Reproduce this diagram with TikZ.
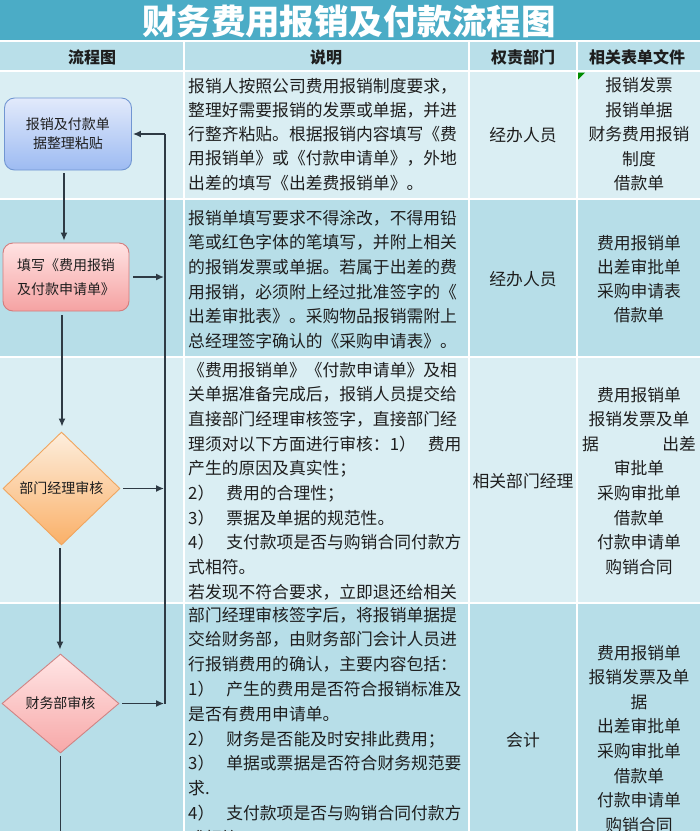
\documentclass[tikz,border=0pt]{standalone}
\usepackage{fontspec}
\setmainfont{Noto Sans CJK SC}
\usetikzlibrary{shapes.geometric,arrows.meta}
\newcommand\numgap{\hspace{12pt}}
\definecolor{titlebg}{HTML}{4BACC6}
\definecolor{hdrbg}{HTML}{B9DFE9}
\definecolor{rowa}{HTML}{DAEEF3}
\definecolor{rowb}{HTML}{B7DEE8}
\definecolor{ink}{HTML}{1E1E1E}
\definecolor{arr}{HTML}{2E3A44}
\definecolor{bluetop}{HTML}{E2EAFB}
\definecolor{bluebot}{HTML}{9DBBF2}
\definecolor{blueline}{HTML}{7196D2}
\definecolor{redtop}{HTML}{FFE3E3}
\definecolor{redbot}{HTML}{F5A2A2}
\definecolor{redline}{HTML}{D47C7C}
\definecolor{orgtop}{HTML}{FDEEDD}
\definecolor{orgbot}{HTML}{FAB068}
\definecolor{orgline}{HTML}{F0A55E}
\definecolor{pinktop}{HTML}{FFE6E6}
\definecolor{pinkbot}{HTML}{F7A8A8}
\definecolor{pinkline}{HTML}{CF8484}
\tikzset{
  desc/.style={font=\fontsize{16.8}{20}\selectfont, text=ink, inner sep=0pt},
  hdr/.style={font=\fontsize{16}{20}\selectfont\bfseries, text=ink, inner sep=0pt},
  flowtext/.style={font=\fontsize{14}{19}\selectfont, text=ink, align=center, inner sep=0pt},
  conn/.style={draw=arr, line width=1.4pt, -{Latex[length=8pt,width=7pt]}},
  plainline/.style={draw=arr, line width=1.4pt},
  gridline/.style={draw=white, line width=2.5pt},
}
\begin{document}
\begin{tikzpicture}[x=1pt,y=-1pt]
\useasboundingbox (0,0) rectangle (700,831);
\clip (0,0) rectangle (700,831);
% backgrounds
\fill[white] (0,0) rectangle (700,831);
\fill[titlebg] (0,0) rectangle (700,40);
\fill[hdrbg] (0,42) rectangle (700,71);
\fill[rowa] (0,71) rectangle (700,199);
\fill[rowb] (0,199) rectangle (700,357);
\fill[rowa] (0,357) rectangle (700,603);
\fill[rowb] (0,603) rectangle (700,831);
\draw[gridline] (0,71) -- (700,71);
\draw[gridline] (0,199) -- (700,199);
\draw[gridline] (0,357) -- (700,357);
\draw[gridline] (0,603) -- (700,603);
\draw[gridline] (184,42) -- (184,831);
\draw[gridline] (469,42) -- (469,831);
\draw[gridline] (577,42) -- (577,831);
\fill[green!55!black] (578,72.5) -- (585,72.5) -- (578,79.5) -- cycle;
% title and header
\node[font=\fontsize{34.5}{34}\selectfont\bfseries, text=white, inner sep=0pt] (title) at (349,21) {财务费用报销及付款流程图};
\node[hdr] (h1) at (92,57) {流程图};
\node[hdr] (h2) at (326,57) {说明};
\node[hdr] (h3) at (523,57) {权责部门};
\node[hdr] (h4) at (637,57) {相关表单文件};
% description column
\foreach \t [count=\i] in {报销人按照公司费用报销制度要求，,整理好需要报销的发票或单据，并进,行整齐粘贴。根据报销内容填写《费,用报销单》或《付款申请单》，外地,出差的填写《出差费报销单》。}
  \node[desc, anchor=base west] (da\i) at (188,{92+(\i-1)*24.3}) {\t};
\foreach \t [count=\i] in {报销单填写要求不得涂改，不得用铅,笔或红色字体的笔填写，并附上相关,的报销发票或单据。若属于出差的费,用报销，必须附上经过批准签字的《,出差审批表》。采购物品报销需附上,总经理签字确认的《采购申请表》。}
  \node[desc, anchor=base west] (db\i) at (188,{224+(\i-1)*24.7}) {\t};
\foreach \t [count=\i] in {《费用报销单》《付款申请单》及相,关单据准备完成后，报销人员提交给,直接部门经理审核签字，直接部门经,理须对以下方面进行审核：1）\numgap 费用,产生的原因及真实性；,2）\numgap 费用的合理性；,3）\numgap 票据及单据的规范性。,4）\numgap 支付款项是否与购销合同付款方,式相符。,若发现不符合要求，立即退还给相关}
  \node[desc, anchor=base west] (dc\i) at (188,{376+(\i-1)*24.7}) {\t};
\foreach \t [count=\i] in {部门经理审核签字后，将报销单据提,交给财务部，由财务部门会计人员进,行报销费用的确认，主要内容包括：,1）\numgap 产生的费用是否符合报销标准及,是否有费用申请单。,2）\numgap 财务是否能及时安排此费用；,3）\numgap 单据或票据是否符合财务规范要,求.,4）\numgap 支付款项是否与购销合同付款方,式相符。}
  \node[desc, anchor=base west] (dd\i) at (188,{621+(\i-1)*24.8}) {\t};
% responsible column
\node[desc] (ra) at (523,135) {经办人员};
\node[desc] (rb) at (523,279) {经办人员};
\node[desc] (rc) at (523,481) {相关部门经理};
\node[desc] (rd) at (523,740) {会计};
% documents column
\foreach \t [count=\i] in {报销发票,报销单据,财务费用报销,制度,借款单}
  \node[desc, anchor=base] (fa\i) at (639,{91.5+(\i-1)*24.6}) {\t};
\foreach \t [count=\i] in {费用报销单,出差审批单,采购申请表,借款单}
  \node[desc, anchor=base] (fb\i) at (639,{249+(\i-1)*24.1}) {\t};
\foreach \t [count=\i] in {费用报销单,报销发票及单,{\makebox[114pt]{据\hfill 出差}},审批单,采购审批单,借款单,付款申请单,购销合同}
  \node[desc, anchor=base] (fc\i) at (639,{401+(\i-1)*24.6}) {\t};
\foreach \t [count=\i] in {费用报销单,报销发票及单,据,出差审批单,采购审批单,借款单,付款申请单,购销合同}
  \node[desc, anchor=base] (fd\i) at (639,{659+(\i-1)*24.6}) {\t};
% flowchart shapes
\node[flowtext, draw=blueline, line width=0.9pt, rounded corners=10pt, top color=bluetop, bottom color=bluebot,
      minimum width=127pt, minimum height=72pt] (b1) at (68,134) {报销及付款单\\据整理粘贴};
\node[flowtext, font=\fontsize{14}{24}\selectfont, draw=redline, line width=0.9pt, rounded corners=10pt, top color=redtop, bottom color=redbot,
      minimum width=126pt, minimum height=68pt] (b2) at (66,277) {填写《费用报销\\及付款申请单》};
\node[flowtext, diamond, draw=orgline, line width=0.9pt, top color=orgtop, bottom color=orgbot,
      minimum width=117pt, minimum height=113pt] (d1) at (61.5,488.5) {部门经理审核};
\node[flowtext, diamond, draw=pinkline, line width=0.9pt, top color=pinktop, bottom color=pinkbot,
      minimum width=117pt, minimum height=99pt] (d2) at (60.5,703.5) {财务部审核};
% connectors
\coordinate (fbx) at (165,0);
\coordinate (bottom) at (60,831);
\draw[conn, shorten <=3pt, shorten >=2pt] (b1.south -| 64,0) -- (b2.north -| 64,0);
\draw[conn, shorten <=4pt, shorten >=5pt] (b2.south -| 62,0) -- (d1.north -| 62,0);
\draw[conn, shorten <=3pt, shorten >=4pt] (d1.south -| 60,0) -- (d2.north -| 60,0);
\draw[plainline, shorten <=3pt] (d2.south) -- (d2.south |- bottom);
\draw[conn, shorten <=4pt, shorten >=1pt] (b2.east) -- (b2.east -| fbx);
\draw[conn, shorten <=3pt, shorten >=1pt] (d1.east) -- (d1.east -| fbx);
\draw[conn, shorten <=3pt, shorten >=1pt] (d2.east) -- (d2.east -| fbx);
\draw[plainline] (d2.east -| fbx) -- (b1.east -| fbx);
\draw[conn, shorten >=1pt] (b1.east -| fbx) -- (b1.east);
\end{tikzpicture}
\end{document}
